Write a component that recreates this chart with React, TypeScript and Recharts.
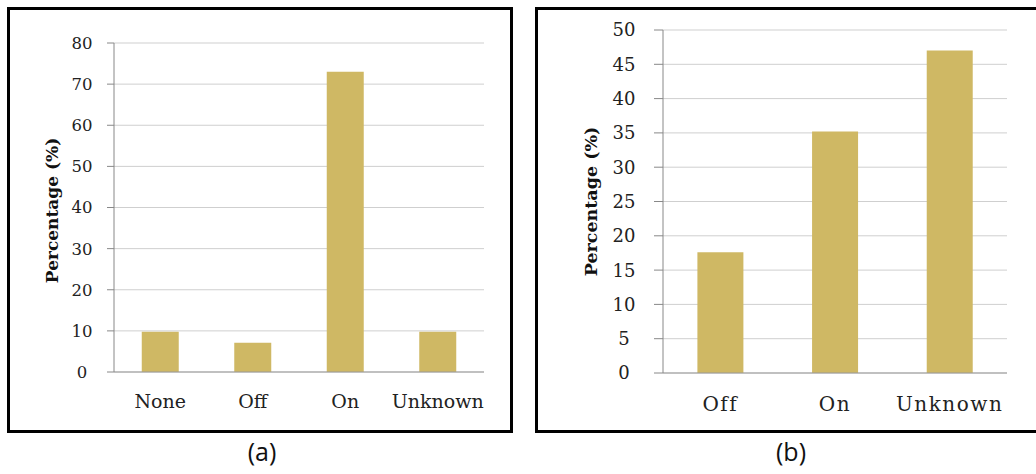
import React from 'react'
import { BarChart, Bar, XAxis, YAxis, CartesianGrid, Label } from 'recharts'

// panel (a)
const catsA = ['None', 'Off', 'On', 'Unknown']
const valsA = [9.8, 7.1, 73, 9.8]
const ticksA = [0, 10, 20, 30, 40, 50, 60, 70, 80]

// panel (b)
const catsB = ['Off', 'On', 'Unknown']
const valsB = [17.6, 35.2, 47]
const ticksB = [0, 5, 10, 15, 20, 25, 30, 35, 40, 45, 50]

const dataA = catsA.map((c, i) => ({ name: c, pct: valsA[i] }))
const dataB = catsB.map((c, i) => ({ name: c, pct: valsB[i] }))

const serif = '"DejaVu Serif", serif'
const barColor = '#cfb864'

function yTick(shift: number, size: number) {
  return (p: any) => (
    <text x={p.x + shift} y={p.y} dy="0.36em" textAnchor="middle" fontFamily={serif} fontSize={size} fill="#222">
      {p.payload.value}
    </text>
  )
}

function yTitle(dx: number, dyc: number, size: number) {
  return (p: any) => {
    const vb = p.viewBox
    const cx = vb.x + dx
    const cy = vb.y + vb.height / 2 + dyc
    return (
      <text x={cx} y={cy} dy="0.35em" textAnchor="middle" transform={`rotate(-90, ${cx}, ${cy})`}
        fontFamily={serif} fontWeight="bold" fontSize={size} fill="#111">
        Percentage (%)
      </text>
    )
  }
}

const box: React.CSSProperties = {
  position: 'absolute', top: 7, height: 426, border: '3px solid #000', boxSizing: 'border-box', background: '#fff',
}
const caption: React.CSSProperties = {
  position: 'absolute', top: 434, width: 60, textAlign: 'center', fontFamily: '"Open Sans", sans-serif', fontSize: 25, color: '#111',
}

export default function App() {
  return (
    <div style={{ position: 'absolute', left: 0, top: 0, width: 1036, height: 474, overflow: 'hidden', background: '#fff' }}>
      <div style={{ ...box, left: 7, width: 506 }} />
      <div style={{ ...box, left: 535, width: 520 }} />

      <div style={{ position: 'absolute', left: 0, top: 0 }}>
        <BarChart width={520} height={474} data={dataA} margin={{ top: 43, right: 36, bottom: 62, left: 0 }}
          barCategoryGap="30%">
          <CartesianGrid vertical={false} stroke="#cfcfcf" />
          <XAxis dataKey="name" height={40} tickSize={0} tickMargin={23} axisLine={{ stroke: '#999' }}
            tick={{ fontFamily: serif, fontSize: 19, fill: '#222' }} interval={0} />
          <YAxis width={114} domain={[0, 80]} ticks={ticksA} tickSize={7} axisLine={{ stroke: '#888' }}
            tickLine={{ stroke: '#888' }} tick={yTick(-23, 16.5)} interval={0}>
            <Label content={yTitle(52, 3, 17)} />
          </YAxis>
          <Bar dataKey="pct" fill={barColor} isAnimationActive={false} />
        </BarChart>
      </div>

      <div style={{ position: 'absolute', left: 520, top: 0 }}>
        <BarChart width={516} height={474} data={dataB} margin={{ top: 30, right: 29, bottom: 61, left: 0 }}
          barCategoryGap="30%">
          <CartesianGrid vertical={false} stroke="#cfcfcf" />
          <XAxis dataKey="name" height={40} tickSize={0} tickMargin={24} axisLine={{ stroke: '#999' }}
            tick={{ fontFamily: serif, fontSize: 20, fill: '#222', letterSpacing: 1.5 }} interval={0} />
          <YAxis width={143} domain={[0, 50]} ticks={ticksB} tickSize={9} axisLine={{ stroke: '#888' }}
            tickLine={{ stroke: '#888' }} tick={yTick(-28, 18)} interval={0}>
            <Label content={yTitle(71, 0, 17.5)} />
          </YAxis>
          <Bar dataKey="pct" fill={barColor} isAnimationActive={false} />
        </BarChart>
      </div>

      <div style={{ ...caption, left: 232 }}>(a)</div>
      <div style={{ ...caption, left: 761 }}>(b)</div>
    </div>
  )
}
